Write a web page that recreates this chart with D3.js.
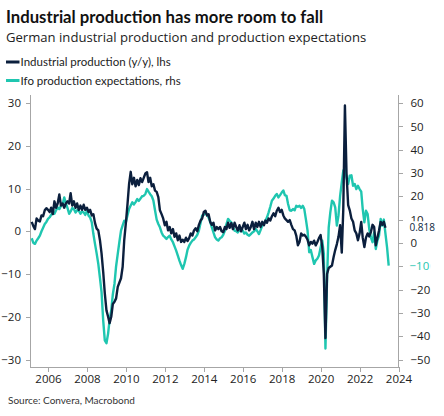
<!DOCTYPE html>
<html>
<head>
<meta charset="utf-8">
<script src="https://cdn.jsdelivr.net/npm/d3@7"></script>
<style>
  body { margin: 0; background: #fff; }
  svg { display: block; }
  .tick text { font-family: "Open Sans", sans-serif; font-size: 11.5px; fill: #222; }
</style>
</head>
<body>
<svg id="chart"></svg>
<script>
// monthly series, both start in March 2005
var startYear = 2005, startMonth = 2

// German industrial production, y/y % (lhs)
var ipValues = [
  2.2, 1.2, 0.5, 3.0, 2.5, 2.3, 3.7, 3.5, 4.9, 5.4,
  5.0, 4.5, 5.5, 4.0, 7.0, 5.5, 6.5, 8.6, 6.0, 6.5, 5.5, 6.5,
  7.0, 6.5, 8.9, 6.0, 7.0, 5.5, 6.5, 5.0, 6.0, 5.0, 6.2, 5.0,
  5.5, 4.5, 5.0, 3.7, 4.0, 1.9, 0.6, 0.2, -2.1, -5.2, -9.5, -14.5,
  -18.5, -20.0, -21.5, -20.0, -17.0, -16.5, -15.7, -13.0, -12.0, -11.0, -8.3, -2.0,
  2.0, 6.5, 11.0, 13.9, 11.0, 12.5, 10.5, 12.0, 10.8, 12.4, 11.5, 12.5,
  13.5, 13.8, 11.5, 12.5, 10.5, 11.0, 9.5, 9.2, 8.0, 4.9, 4.0, 3.0,
  1.4, 2.2, 0.2, 1.0, -0.5, 0.5, -1.3, -0.5, -2.1, -1.0, -2.5, -2.0,
  -2.5, -1.5, -2.3, -1.6, -0.5, -1.0, 0.2, 0.7, 0.0, 1.5, 2.5, 3.0,
  4.5, 4.8, 3.7, 4.0, 2.2, 1.5, 2.0, 0.2, 1.0, 0.5, 1.0, 0.0,
  -0.2, 1.0, 0.5, 2.0, 0.8, 1.9, 0.5, 2.0, 1.0, 0.2, 1.4, 0.0,
  1.0, 2.0, 0.5, 1.5, 0.2, 1.0, 2.2, 0.5, 2.0, 1.0, 2.2, 1.0,
  2.2, 1.4, 2.5, 2.0, 3.0, 2.5, 3.5, 4.2, 3.5, 4.8, 5.5, 4.5,
  5.0, 3.7, 3.0, 2.6, 2.2, 2.6, 1.5, 0.5, 0.2, -1.0, -3.3, -2.5,
  -0.5, -1.0, -0.8, -1.3, -2.0, -3.3, -2.5, -2.9, -2.2, -3.3, -2.5, -1.6,
  -0.9, -3.7, -10.0, -25.0, -10.0, -8.6, -8.3, -8.0, -6.0, -4.4, -3.0, -1.3,
  1.4, -5.0, 5.0, 29.4, 13.5, 6.1, 4.9, 3.0, 2.2, 0.2, -0.5, -2.1,
  -0.5, 2.2, -1.5, -3.7, -1.5, -0.5, -1.2, -0.2, 1.5, 1.0, -3.3, -1.5,
  0.2, 2.2, 1.5, 2.2, 0.818
]

// Ifo production expectations, balance (rhs)
var ifoValues = [
  2.0, 0.0, -0.4, 1.0, 2.0, 3.1, 5.0, 6.5, 8.1, 9.0,
  10.3, 11.0, 12.0, 13.1, 12.5, 14.0, 15.2, 14.5, 15.9, 16.5, 19.5, 17.0,
  15.0, 12.5, 13.5, 15.0, 14.5, 13.0, 14.0, 13.8, 12.5, 13.5, 13.1, 12.0,
  13.8, 11.7, 10.9, 8.8, 3.8, -0.5, -4.5, -9.0, -15.0, -21.1, -33.2, -41.8,
  -43.0, -38.9, -33.0, -28.9, -22.0, -17.5, -10.0, -4.7, 0.5, 5.3, 7.5, 9.5,
  9.0, 12.0, 14.5, 16.0, 17.4, 16.5, 17.5, 18.8, 18.0, 19.0, 20.0, 20.2,
  21.0, 23.1, 22.0, 20.9, 20.0, 18.1, 14.0, 10.0, 8.1, 6.7, 4.5, 3.1,
  2.5, 1.7, 2.5, 3.1, 1.5, 0.3, -1.5, -3.3, -5.5, -7.6, -9.5, -11.1,
  -9.0, -6.1, -3.0, -1.2, 0.0, 1.0, 1.5, 2.4, 3.5, 5.3, 8.5, 11.7,
  12.0, 13.1, 12.0, 10.9, 9.0, 6.7, 4.5, 2.4, 1.5, 1.0, 2.0, 2.4,
  3.5, 5.3, 8.0, 10.3, 9.5, 8.8, 7.0, 5.3, 5.0, 4.5, 5.5, 5.0,
  5.3, 4.0, 4.5, 3.5, 3.1, 3.8, 4.5, 5.0, 6.0, 5.0, 3.8, 5.5,
  7.4, 8.0, 9.5, 11.0, 13.1, 15.5, 18.1, 19.0, 20.2, 21.0, 19.5, 20.5,
  21.6, 22.5, 20.5, 20.2, 16.7, 14.0, 13.8, 14.5, 14.0, 15.9, 15.5, 15.9,
  15.0, 15.9, 14.5, 10.0, 5.3, -4.0, -3.0, -6.1, -9.0, -7.5, -6.8, -5.4,
  -2.0, 1.0, -4.6, -45.3, -15.4, 6.7, 13.1, 18.1, 17.4, 15.2, 7.4, 11.7,
  20.2, 25.9, 30.9, 32.3, 28.0, 25.2, 28.8, 29.0, 24.5, 25.3, 23.1, 24.5,
  23.1, 22.0, 14.5, 8.8, 13.8, 12.4, 6.0, 2.4, 0.3, 4.5, -2.6, 1.0,
  3.1, 10.3, 7.4, 10.0, 4.0, -2.0, -9.7
]

var leftTicks = [-30, -20, -10, 0, 10, 20, 30]
var rightTicks = [-50, -40, -30, -20, -10, 0, 10, 20, 30, 40, 50, 60]
var yearTicks = [2006, 2008, 2010, 2012, 2014, 2016, 2018, 2020, 2022, 2024]

var seriesNames = ['Industrial production (y/y), lhs', 'Ifo production expectations, rhs']
var seriesColors = ['#0b1f3d', '#1fc6b0']

var title = 'Industrial production has more room to fall'
var subtitle = 'German industrial production and production expectations'
var source = 'Source: Convera, Macrobond'

function toSeries (values) {
  return values.map(function (v, i) {
    return {date: new Date(startYear, startMonth + i, 1), value: v}
  })
}
var ip = toSeries(ipValues)
var ifo = toSeries(ifoValues)

var width = 444, height = 416
var plot = {left: 30, right: 398.5, top: 95, bottom: 367}

var svg = d3.select('#chart')
    .attr('width', width)
    .attr('height', height)

// titles
svg.append('text')
    .attr('x', 6).attr('y', 23)
    .style('font-family', 'Lato, sans-serif')
    .style('font-weight', 'bold')
    .style('font-size', '16.7px')
    .style('fill', '#111')
    .text(title)

svg.append('text')
    .attr('x', 6).attr('y', 42)
    .style('font-family', '"Open Sans", sans-serif')
    .style('font-size', '13.1px')
    .style('fill', '#222')
    .text(subtitle)

// legend
var legend = svg.append('g')
seriesNames.forEach(function (name, i) {
  var y = 62 + i * 18.5
  legend.append('line')
      .attr('x1', 6).attr('x2', 19.5)
      .attr('y1', y).attr('y2', y)
      .style('stroke', seriesColors[i])
      .style('stroke-width', 3)
  legend.append('text')
      .attr('x', 20.5).attr('y', y)
      .attr('dy', '0.35em')
      .style('font-family', 'Lato, sans-serif')
      .style('font-size', '11.5px')
      .style('fill', '#222')
      .text(name)
})

// scales
var x = d3.scaleTime()
    .domain([new Date(2005, 0, 28), new Date(2024, 0, 1)])
    .range([plot.left, plot.right])

var yLeft = d3.scaleLinear()
    .domain([-30, 30])
    .range([359.5, 103])

var yRight = d3.scaleLinear()
    .domain([-50, 60])
    .range([359.5, 103])

// frame
var frame = svg.append('g')
    .style('stroke', '#a6a6a6')
    .style('stroke-width', 1)
    .style('shape-rendering', 'crispEdges')
frame.append('line')
    .attr('x1', plot.left).attr('x2', plot.left)
    .attr('y1', plot.top).attr('y2', plot.bottom)
frame.append('line')
    .attr('x1', plot.right).attr('x2', plot.right)
    .attr('y1', plot.top).attr('y2', plot.bottom)
frame.append('line')
    .attr('x1', plot.left).attr('x2', plot.right)
    .attr('y1', plot.bottom).attr('y2', plot.bottom)

// axes
function styleAxis (g) {
  g.select('.domain').remove()
  g.selectAll('.tick line').style('stroke', '#a6a6a6').style('shape-rendering', 'crispEdges')
}

svg.append('g')
    .attr('transform', 'translate(' + plot.left + ',0)')
    .call(d3.axisLeft(yLeft).tickValues(leftTicks).tickSize(4).tickPadding(5))
    .call(styleAxis)

svg.append('g')
    .attr('class', 'right-axis')
    .attr('transform', 'translate(' + plot.right + ',0)')
    .call(d3.axisRight(yRight).tickValues(rightTicks).tickSize(4).tickPadding(8))
    .call(styleAxis)

svg.append('g')
    .attr('transform', 'translate(0,' + plot.bottom + ')')
    .call(d3.axisBottom(x)
      .tickValues(yearTicks.map(function (yr) { return new Date(yr, 0, 1) }))
      .tickFormat(d3.timeFormat('%Y'))
      .tickSize(5).tickPadding(3))
    .call(styleAxis)

// lines
var lineLeft = d3.line()
    .x(function (d) { return x(d.date) })
    .y(function (d) { return yLeft(d.value) })

var lineRight = d3.line()
    .x(function (d) { return x(d.date) })
    .y(function (d) { return yRight(d.value) })

svg.append('path')
    .datum(ifo)
    .attr('d', lineRight)
    .style('fill', 'none')
    .style('stroke', seriesColors[1])
    .style('stroke-width', 2.4)
    .style('stroke-linejoin', 'round')

svg.append('path')
    .datum(ip)
    .attr('d', lineLeft)
    .style('fill', 'none')
    .style('stroke', seriesColors[0])
    .style('stroke-width', 2.4)
    .style('stroke-linejoin', 'round')

// last value labels on the right
var lastLabels = [
  {text: d3.format('.3f')(ip[ip.length - 1].value), y: yLeft(ip[ip.length - 1].value), color: seriesColors[0], size: 10},
  {text: d3.format('.0f')(ifo[ifo.length - 1].value), y: yRight(ifo[ifo.length - 1].value), color: seriesColors[1], size: 11.5}
]
lastLabels.forEach(function (l) {
  var g = svg.append('g').attr('transform', 'translate(' + (plot.right + 11) + ',' + l.y + ')')
  var t = g.append('text')
      .attr('dy', '0.35em')
      .style('font-family', '"Open Sans", sans-serif')
      .style('font-size', l.size + 'px')
      .style('fill', l.color)
      .text(l.text)
  var bb = t.node().getBBox()
  g.insert('rect', 'text')
      .attr('x', bb.x - 1).attr('y', bb.y + 1)
      .attr('width', bb.width + 2).attr('height', bb.height - 2)
      .style('fill', '#fff')
})

// source
svg.append('text')
    .attr('x', 8).attr('y', 404)
    .style('font-family', 'Lato, sans-serif')
    .style('font-size', '10px')
    .style('fill', '#333')
    .text(source)
</script>
</body>
</html>
